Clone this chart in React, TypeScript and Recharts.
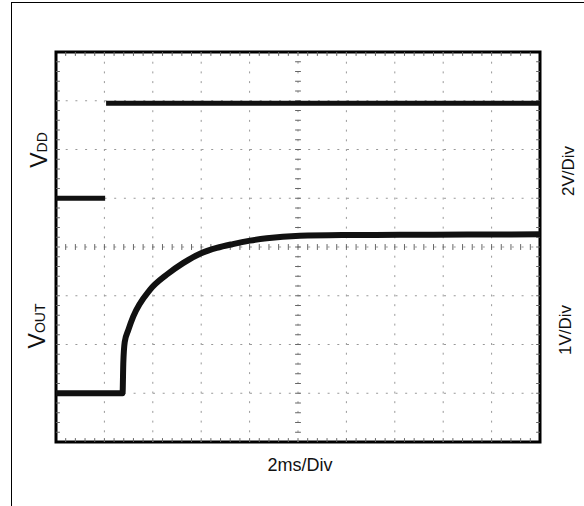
import { ComposedChart, Line, XAxis, YAxis, ReferenceLine, ReferenceArea } from "recharts";

// time in ms (2ms/div, 10 divisions)
const vddTime = [0, 2.03, 2.05, 2.07, 20];
const vddVolts: (number | null)[] = [0, 0, null, 3.9, 3.9];

const voutTime = [0, 2.75, 2.78, 2.84, 2.99, 3.19, 3.88, 4.57, 5.25, 5.95, 6.64, 7.31, 8.02, 8.71, 10.08, 12, 14.2, 17, 20];
const voutVolts = [0, 0, 0.6, 1.05, 1.3, 1.57, 2.12, 2.43, 2.67, 2.86, 2.98, 3.06, 3.13, 3.18, 3.23, 3.245, 3.25, 3.255, 3.26];

// graticule, in the VOUT channel's units (1V/div, ground one division up)
const xGrid = [2, 4, 6, 8, 10, 12, 14, 16, 18];
const yGrid = [0, 1, 2, 3, 4, 5, 6];
const yBottom = -1;
const yTop = 7;
const yCenter = 3;

const vddData = vddTime.map((t, i) => ({ t, v: vddVolts[i] }));
const voutData = voutTime.map((t, i) => ({ t, v: voutVolts[i] }));

// minor graticule marks, 5 per division
const minorX = Array.from({ length: 49 }, (_, i) => +((i + 1) * 0.4).toFixed(2));
const minorY = Array.from({ length: 39 }, (_, i) => +(yBottom + (i + 1) * 0.2).toFixed(2));

const tickColor = "#666";
const font = "'Liberation Sans', Arial, sans-serif";

export default function App() {
  const seg = (x1: number, y1: number, x2: number, y2: number, key: string) => (
    <ReferenceLine
      key={key}
      yAxisId="vout"
      segment={[{ x: x1, y: y1 }, { x: x2, y: y2 }]}
      stroke={tickColor}
      strokeWidth={1}
      ifOverflow="visible"
    />
  );

  return (
    <div style={{ position: "relative", width: 584, height: 506, fontFamily: font, background: "#fff" }}>
      <style>{`body{margin:0}`}</style>
      <div style={{ position: "absolute", left: 11, top: 2, width: 600, height: 520, borderLeft: "1px solid #000", borderTop: "1px solid #000" }} />
      <div style={{ position: "absolute", left: 0, top: 0 }}>
        <ComposedChart width={584} height={506} margin={{ top: 52, right: 44, bottom: 64, left: 56 }}>
          <XAxis type="number" dataKey="t" domain={[0, 20]} hide allowDataOverflow />
          <YAxis yAxisId="vdd" type="number" domain={[-10, 6]} hide allowDataOverflow />
          <YAxis yAxisId="vout" type="number" domain={[yBottom, yTop]} hide allowDataOverflow />

          {xGrid.map((x) => (
            <ReferenceLine key={"gx" + x} x={x} yAxisId="vout" stroke="#999" strokeDasharray="2 7.7" />
          ))}
          {yGrid.map((y) => (
            <ReferenceLine key={"gy" + y} y={y} yAxisId="vout" stroke="#999" strokeDasharray="2 7.7" />
          ))}

          {minorX.map((x) => seg(x, yTop, x, yTop - 0.08, "tt" + x))}
          {minorX.map((x) => seg(x, yBottom, x, yBottom + 0.08, "tb" + x))}
          {minorY.map((y) => seg(0, y, 0.16, y, "tl" + y))}
          {minorY.map((y) => seg(20, y, 19.84, y, "tr" + y))}
          {minorX.map((x) => seg(x, yCenter - 0.06, x, yCenter + 0.06, "cx" + x))}
          {minorY.map((y) => seg(9.88, y, 10.12, y, "cy" + y))}

          <ReferenceArea x1={0} x2={20} y1={yBottom} y2={yTop} yAxisId="vout" fill="none" stroke="#000" strokeWidth={3} ifOverflow="visible" />

          <Line data={vddData} dataKey="v" yAxisId="vdd" type="linear" dot={false} stroke="#111" strokeWidth={5} isAnimationActive={false} connectNulls={false} />
          <Line data={voutData} dataKey="v" yAxisId="vout" type="monotone" dot={false} stroke="#111" strokeWidth={6} isAnimationActive={false} />
        </ComposedChart>
      </div>
      <svg width={584} height={506} style={{ position: "absolute", left: 0, top: 0, pointerEvents: "none" }} fontFamily={font}>
        <text transform="translate(47,150) rotate(-90)" textAnchor="middle" fontSize={23} fill="#111">
          V<tspan fontSize={14}>DD</tspan>
        </text>
        <text transform="translate(45,326) rotate(-90)" textAnchor="middle" fontSize={23} fill="#111">
          V<tspan fontSize={14}>OUT</tspan>
        </text>
        <text transform="translate(574,171) rotate(-90)" textAnchor="middle" fontSize={17} fill="#111">2V/Div</text>
        <text transform="translate(571,330) rotate(-90)" textAnchor="middle" fontSize={17} fill="#111">1V/Div</text>
        <text x={300} y={471} textAnchor="middle" fontSize={18} fill="#111">2ms/Div</text>
      </svg>
    </div>
  );
}
